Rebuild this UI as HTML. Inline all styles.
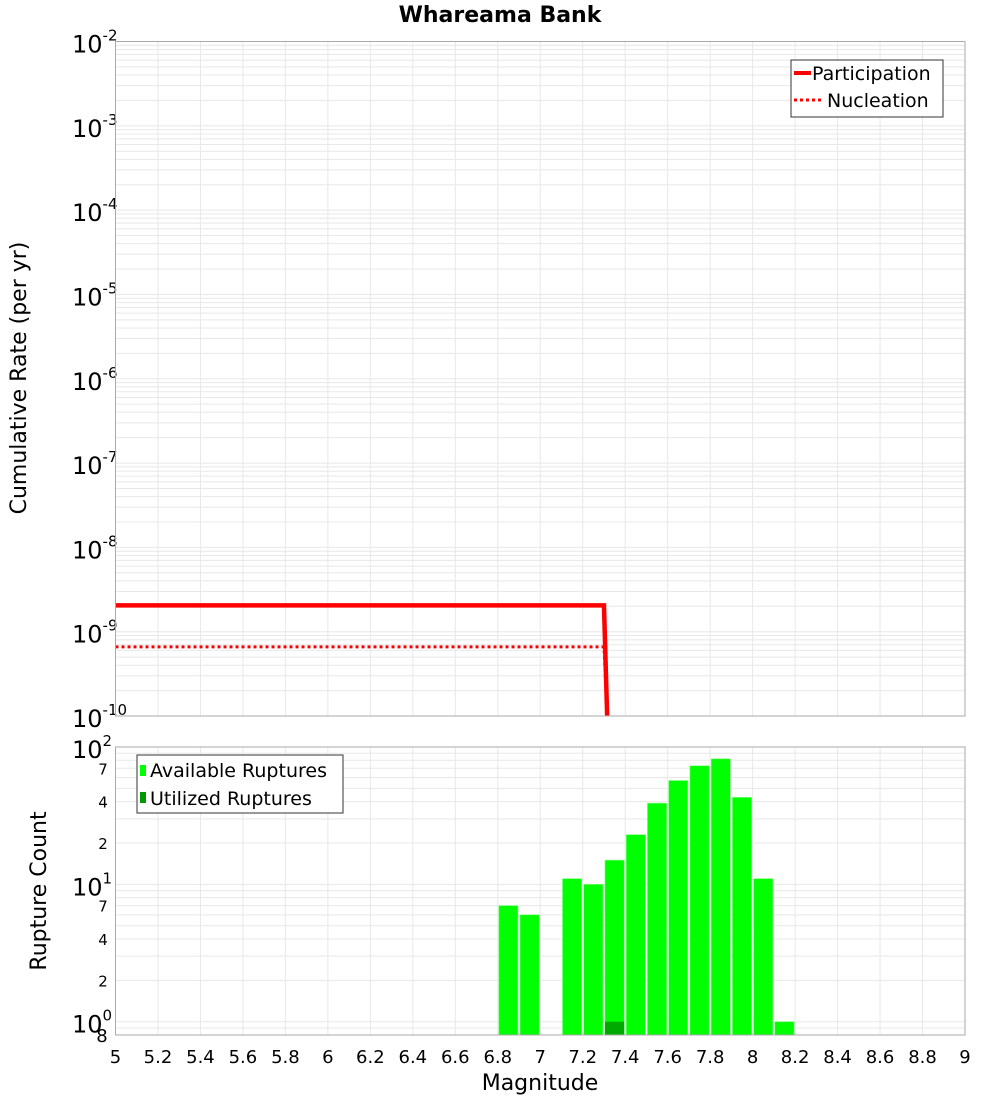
<!DOCTYPE html>
<html><head><meta charset="utf-8"><style>
body{margin:0;background:#fff;width:1000px;height:1100px;overflow:hidden}
svg text{font-family:"DejaVu Sans","Liberation Sans",sans-serif}
</style></head><body>
<svg id="c" width="1000" height="1100" xmlns="http://www.w3.org/2000/svg"></svg>
<script>
const magGrid=[5,7.3,7.315];
const participationRates=[2.05e-9,2.05e-9,1e-11];
const nucleationRates=[6.6e-10,6.6e-10,1e-11];
const binLefts=[6.8,6.9,7.1,7.2,7.3,7.4,7.5,7.6,7.7,7.8,7.9,8.0,8.1];
const availableCounts=[7,6,11,10,15,23,39,57,73,82,43,11,1];
const utilizedCounts=[0,0,0,0,1,0,0,0,0,0,0,0,0];
const xTicks=[5,5.2,5.4,5.6,5.8,6,6.2,6.4,6.6,6.8,7,7.2,7.4,7.6,7.8,8,8.2,8.4,8.6,8.8,9];
const topDecades=[-2,-3,-4,-5,-6,-7,-8,-9,-10];

const NS='http://www.w3.org/2000/svg';
const svg=document.getElementById('c');
function mk(t,a,p){const e=document.createElementNS(NS,t);for(const k in a)e.setAttribute(k,a[k]);(p||svg).appendChild(e);return e;}
const L=115.5,R=965;
const X=m=>L+(m-5)/4*(R-L);
const T0=41.5,T1=716;
const Yt=v=>T0+(-2-Math.log10(v))/8*(T1-T0);
const B0=747,B1=1035;
const Yb=v=>B1-(Math.log10(v)-Math.log10(0.8))/Math.log10(100/0.8)*(B1-B0);

let t=mk('text',{x:500,y:22,'text-anchor':'middle','font-size':22,'font-weight':'bold'});t.textContent='Whareama Bank';


const gTop=mk('g',{});
for(let d=-10;d<-2;d++)for(let k=1;k<10;k++){const y=Yt(k*Math.pow(10,d));mk('line',{x1:L,x2:R,y1:y,y2:y,stroke:'#e8e8e8','stroke-width':1},gTop);}
xTicks.forEach(m=>mk('line',{x1:X(m),x2:X(m),y1:T0,y2:T1,stroke:'#e8e8e8'},gTop));
const gB=mk('g',{});
for(let d=-1;d<2;d++)for(let k=1;k<10;k++){const v=k*Math.pow(10,d);if(v<0.8)continue;const y=Yb(v);mk('line',{x1:L,x2:R,y1:y,y2:y,stroke:'#e8e8e8'},gB);}
xTicks.forEach(m=>mk('line',{x1:X(m),x2:X(m),y1:B0,y2:B1,stroke:'#e8e8e8'},gB));

topDecades.forEach(d=>{const y=Yt(Math.pow(10,d));const tx=mk('text',{x:72,y:y+11,'font-size':24});

tx.innerHTML='10<tspan dy="-12" font-size="15">'+d+'</tspan>';});
function line(xs,ys,attrs,name){const p=mk('polyline',Object.assign({points:xs.map((m,i)=>X(m)+','+Math.min(Yt(ys[i]),T1)).join(' '),fill:'none'},attrs));
}
line(magGrid,nucleationRates,{stroke:'#ff0000','stroke-width':3,'stroke-dasharray':'3,3'},'nucleation-line');
line(magGrid,participationRates,{stroke:'#ff0000','stroke-width':4.5},'participation-line');
mk('rect',{x:L,y:T0,width:R-L,height:T1-T0,fill:'none',stroke:'#aaa'});

const lg=mk('g',{});
mk('rect',{x:791,y:60,width:152,height:57,fill:'#fff',stroke:'#333'},lg);
mk('line',{x1:794,x2:811,y1:73,y2:73,stroke:'#f00','stroke-width':4},lg);
mk('line',{x1:794,x2:822,y1:100,y2:100,stroke:'#f00','stroke-width':3,'stroke-dasharray':'3,3'},lg);
let lt=mk('text',{x:812,y:80,'font-size':19},lg);lt.textContent='Participation';
lt=mk('text',{x:827,y:107,'font-size':19},lg);lt.textContent='Nucleation';

t=mk('text',{transform:'translate(26,378) rotate(-90)','text-anchor':'middle','font-size':22});t.textContent='Cumulative Rate (per yr)';


const bw=X(0.1)-X(0);
binLefts.forEach((m,i)=>{const r=mk('rect',{x:X(m)+1,y:Yb(availableCounts[i]),width:bw-2,height:B1-Yb(availableCounts[i]),fill:'#00ff00',stroke:'#7fff7f','stroke-width':0.6});

if(utilizedCounts[i]>0){const u=mk('rect',{x:X(m)+1,y:Yb(utilizedCounts[i]),width:bw-2,height:B1-Yb(utilizedCounts[i]),fill:'#00aa00'});
}});
mk('rect',{x:L,y:B0,width:R-L,height:B1-B0,fill:'none',stroke:'#aaa'});

[[1,0],[10,1],[100,2]].forEach(([v,e])=>{const tx=mk('text',{x:72,y:Yb(v)+11,'font-size':24});tx.innerHTML='10<tspan dy="-12" font-size="15">'+e+'</tspan>';
});
[2,4,7,20,40,70].forEach(v=>{const tx=mk('text',{x:103,y:Yb(v)+6,'text-anchor':'middle','font-size':15});tx.textContent=String(v).charAt(0);
});
t=mk('text',{x:102,y:1042,'text-anchor':'middle','font-size':18});t.textContent='8';

t=mk('text',{transform:'translate(46,891) rotate(-90)','text-anchor':'middle','font-size':22});t.textContent='Rupture Count';


const lb=mk('g',{});
mk('rect',{x:137,y:755,width:206,height:58,fill:'#fff',stroke:'#333'},lb);
mk('rect',{x:140,y:765,width:6,height:11,fill:'#00ff00'},lb);
mk('rect',{x:140,y:792,width:6,height:11,fill:'#009900'},lb);
lt=mk('text',{x:150,y:777,'font-size':19},lb);lt.textContent='Available Ruptures';
lt=mk('text',{x:150,y:805,'font-size':19},lb);lt.textContent='Utilized Ruptures';

xTicks.forEach(m=>{const tx=mk('text',{x:X(m),y:1063,'text-anchor':'middle','font-size':18});tx.textContent=String(m);
});
t=mk('text',{x:540,y:1090,'text-anchor':'middle','font-size':22});t.textContent='Magnitude';

</script>
</body></html>
